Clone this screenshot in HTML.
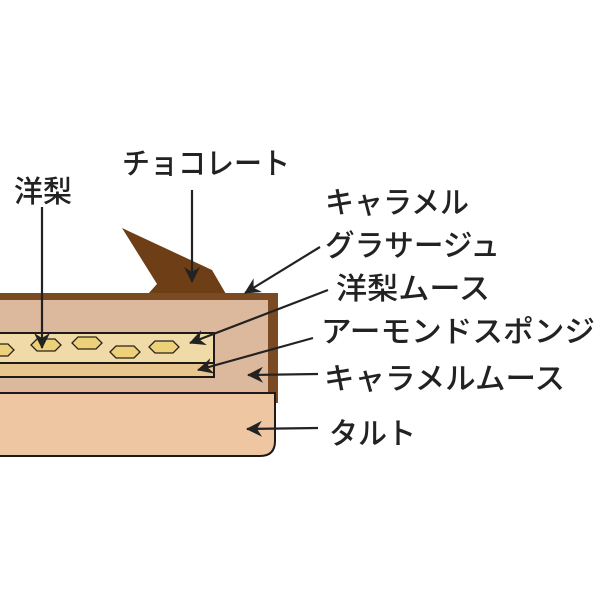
<!DOCTYPE html>
<html><head><meta charset="utf-8"><style>
html,body{margin:0;padding:0;background:#fff;}
svg text{font-family:"Liberation Sans","Noto Sans CJK JP",sans-serif;font-size:30px;fill:#222;font-weight:500;}
</style></head><body>
<svg width="600" height="600" viewBox="0 0 600 600" xmlns="http://www.w3.org/2000/svg">
<defs>
<marker id="b" markerWidth="16" markerHeight="16" refX="15" refY="8" orient="auto" markerUnits="userSpaceOnUse" viewBox="0 0 16 16"><path d="M0,0 L16,8 L0,16 L5,8 z" fill="#222"/></marker></defs>
<polygon points="122,228 212,270 226,294 148,294 157,284" fill="#6e3f17"/>
<rect x="0" y="293" width="278" height="110" fill="#7a4a22"/>
<rect x="0" y="300" width="268" height="100" fill="#dcb89c"/>
<rect x="-5" y="333" width="219" height="30" fill="#f0dba8" stroke="#1e1a17" stroke-width="2"/>
<rect x="-5" y="363" width="219" height="14" fill="#e8c58d" stroke="#1e1a17" stroke-width="2"/>
<g fill="#ecd07a" stroke="#2a2218" stroke-width="1.3">
<polygon points="-10,350 -4,344 8,344 14,350 8,356 -4,356"/>
<polygon points="31,345 37,339 55,339 61,345 55,351 37,351"/>
<polygon points="72,343 78,337 96,337 102,343 96,349 78,349"/>
<polygon points="110,352 116,346 134,346 140,352 134,358 116,358"/>
<polygon points="149,347 155,341 173,341 179,347 173,353 155,353"/>
</g>
<path d="M-5,393 L275,393 L275,441 Q275,456 260,456 L-5,456 Z" fill="#efc6a2" stroke="#1e1a17" stroke-width="2"/>
<g stroke="#222" stroke-width="2.2" fill="none">
<line x1="42" y1="207" x2="42" y2="348" marker-end="url(#b)"/>
<line x1="192" y1="190" x2="192" y2="282" marker-end="url(#b)"/>
<line x1="320" y1="247" x2="245" y2="293" marker-end="url(#b)"/>
<line x1="328" y1="290" x2="190" y2="343" marker-end="url(#b)"/>
<line x1="313" y1="338" x2="198" y2="370" marker-end="url(#b)"/>
<line x1="318" y1="374" x2="248" y2="375" marker-end="url(#b)"/>
<line x1="318" y1="428" x2="247" y2="429" marker-end="url(#b)"/>
</g>
<text x="14" y="202" textLength="58" lengthAdjust="spacingAndGlyphs">洋梨</text>
<text x="122" y="174" textLength="168" lengthAdjust="spacingAndGlyphs">チョコレート</text>
<text x="325" y="213" textLength="144" lengthAdjust="spacingAndGlyphs">キャラメル</text>
<text x="325" y="256" textLength="175" lengthAdjust="spacingAndGlyphs">グラサージュ</text>
<text x="336" y="299" textLength="154" lengthAdjust="spacingAndGlyphs">洋梨ムース</text>
<text x="321" y="342" textLength="274" lengthAdjust="spacingAndGlyphs">アーモンドスポンジ</text>
<text x="324" y="389" textLength="241" lengthAdjust="spacingAndGlyphs">キャラメルムース</text>
<text x="329" y="444" textLength="87" lengthAdjust="spacingAndGlyphs">タルト</text>
</svg>
</body></html>
